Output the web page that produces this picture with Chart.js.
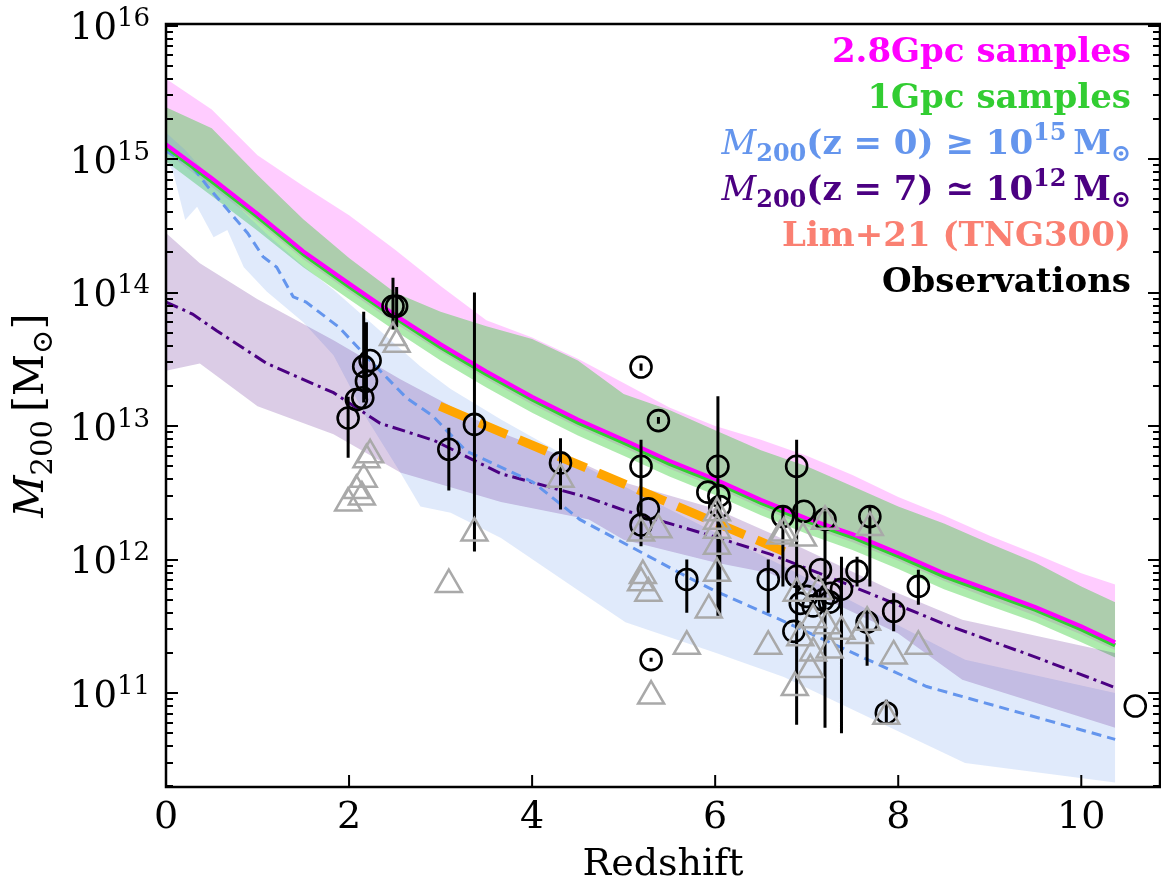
<!DOCTYPE html>
<html>
<head>
<meta charset="utf-8">
<script src="https://cdn.jsdelivr.net/npm/chart.js@4.4.1/dist/chart.umd.min.js"></script>
<style>
  html, body { margin: 0; padding: 0; background: #fff; }
  canvas { display: block; }
</style>
</head>
<body>
<canvas id="chart" width="1161" height="883"></canvas>
<script>
// ---- simulation curves (redshift vs M200) ----
const zGrid = [0, 0.5, 1, 1.5, 2, 2.5, 3, 3.5, 4, 4.5, 5, 5.5, 6, 6.5, 7, 7.5, 8, 8.5, 9, 9.5, 10, 10.37];
// 2.8Gpc samples
const med28 = [1.29e15, 7.2e14, 3.9e14, 2.04e14, 1.17e14, 6.8e13, 4.1e13, 2.57e13, 1.66e13, 1.12e13, 7.9e12, 5.5e12, 4.0e12, 2.8e12, 2.04e12, 1.55e12, 1.12e12, 7.9e11, 5.9e11, 4.4e11, 3.16e11, 2.4e11];
const hi28 = [4.0e15, 2.35e15, 1.07e15, 6.3e14, 3.8e14, 2.1e14, 1.12e14, 6.2e13, 4.6e13, 3.2e13, 2.1e13, 1.38e13, 1.0e13, 7.9e12, 6.0e12, 4.3e12, 2.95e12, 2.14e12, 1.51e12, 1.10e12, 7.9e11, 6.5e11];
const lo28 = [1.12e15, 6.2e14, 3.4e14, 1.78e14, 1.02e14, 5.9e13, 3.6e13, 2.25e13, 1.45e13, 9.8e12, 6.9e12, 4.8e12, 3.5e12, 2.45e12, 1.78e12, 1.35e12, 9.8e11, 6.9e11, 5.1e11, 3.8e11, 2.75e11, 2.1e11];
// 1Gpc samples
const med1 = [1.23e15, 6.8e14, 3.7e14, 1.94e14, 1.11e14, 6.5e13, 3.9e13, 2.44e13, 1.58e13, 1.06e13, 7.5e12, 5.2e12, 3.8e12, 2.66e12, 1.94e12, 1.47e12, 1.06e12, 7.5e11, 5.6e11, 4.2e11, 3.0e11, 2.28e11];
const hi1 = [2.45e15, 1.7e15, 7.6e14, 3.55e14, 1.82e14, 1.0e14, 7.2e13, 5.6e13, 4.5e13, 3.1e13, 1.74e13, 1.32e13, 9.3e12, 6.6e12, 5.0e12, 3.55e12, 2.5e12, 1.86e12, 1.32e12, 9.5e11, 6.3e11, 4.8e11];
const lo1 = [9.6e14, 5.3e14, 2.9e14, 1.55e14, 8.9e13, 5.2e13, 3.1e13, 1.95e13, 1.26e13, 8.5e12, 6.0e12, 4.2e12, 3.05e12, 2.15e12, 1.56e12, 1.18e12, 8.5e11, 6.0e11, 4.5e11, 3.4e11, 2.4e11, 1.85e11];

// M200(z=0) >= 1e15
const zBlueBand = [0, 0.08, 0.21, 0.34, 0.52, 0.67, 0.85, 1.1, 1.5, 1.83, 2.2, 2.56, 2.78, 3.11, 3.66, 4.55, 5.02, 6.01, 6.75, 8.73, 10.37];
const loBlue = [1.0e15, 7.9e14, 3.5e14, 4.4e14, 2.6e14, 2.95e14, 1.55e14, 1.02e14, 6.0e13, 3.4e13, 1.12e13, 4.5e12, 2.5e12, 2.24e12, 1.45e12, 5.6e11, 3.4e11, 2.0e11, 1.32e11, 3.0e10, 2.14e10];
const hiBlue = [1.58e15, 1.41e15, 1.17e15, 9.3e14, 6.9e14, 5.5e14, 4.0e14, 2.75e14, 1.58e14, 1.05e14, 6.3e13, 3.8e13, 2.8e13, 1.9e13, 1.12e13, 5.1e12, 3.5e12, 1.58e12, 8.9e11, 1.78e11, 1.0e11];
const zBlueLine = [0, 0.28, 0.45, 0.67, 0.89, 1.06, 1.21, 1.39, 1.53, 1.89, 2.26, 2.63, 2.91, 3.28, 4.01, 4.52, 5.62, 5.98, 6.71, 8.31, 10.37];
const medBlue = [1.15e15, 8.9e14, 6.3e14, 4.2e14, 2.8e14, 1.86e14, 1.55e14, 9.3e13, 8.5e13, 5.5e13, 2.95e13, 1.62e13, 1.2e13, 6.5e12, 3.8e12, 2.0e12, 7.9e11, 5.9e11, 3.55e11, 1.12e11, 4.5e10];

// M200(z=7) ~ 1e12
const zPurpleBand = [0, 0.37, 1.0, 1.83, 2.56, 3.66, 4.62, 5.0, 6.0, 6.6, 8.0, 8.7, 10.37];
const hiPurple = [2.8e14, 1.66e14, 8.9e13, 4.4e13, 2.24e13, 8.9e12, 5.0e12, 3.8e12, 2.4e12, 1.58e12, 5.6e11, 3.55e11, 2.0e11];
const loPurple = [2.6e13, 2.95e13, 1.41e13, 8.7e12, 4.5e12, 2.7e12, 2.0e12, 1.41e12, 9.5e11, 7.9e11, 2.8e11, 1.26e11, 5.5e10];
const zPurpleLine = [0, 0.29, 0.55, 1.1, 1.83, 2.34, 2.93, 3.66, 4.62, 5.0, 6.0, 6.6, 7.5, 8.5, 9.5, 10.37];
const medPurple = [8.5e13, 6.9e13, 5.2e13, 2.95e13, 1.78e13, 1.05e13, 7.8e12, 4.4e12, 2.9e12, 2.35e12, 1.48e12, 1.1e12, 6.3e11, 3.3e11, 1.86e11, 1.1e11];

// Lim+21 (TNG300)
const zLim = [2.99, 5.0, 6.82];
const mLim = [1.41e13, 3.7e12, 1.1e12];

// ---- observations: circles with error bars (null = no bar) ----
const obsZ  = [1.99, 2.08, 2.15, 2.16, 2.19, 2.23, 2.48, 2.52, 3.09, 3.37, 4.31, 5.19, 5.27, 5.19, 5.19, 5.38, 5.30, 6.03, 5.92, 6.04, 6.05, 5.69, 6.58, 6.74, 6.89, 6.97, 7.20, 7.69, 6.89, 7.15, 7.26, 7.38, 7.55, 7.00, 7.07, 6.86, 7.66, 7.95, 8.22, 7.87, 10.59, 6.93, 7.18, 7.25];
const obsM  = [1.15e13, 1.58e13, 1.63e13, 2.8e13, 2.17e13, 3.1e13, 7.9e13, 7.9e13, 6.7e12, 1.03e13, 5.3e12, 5.0e12, 2.4e12, 1.82e12, 2.77e13, 1.1e13, 1.78e11, 5.0e12, 3.2e12, 3.0e12, 2.5e12, 7.1e11, 7.1e11, 2.1e12, 5.0e12, 2.3e12, 2.0e12, 2.1e12, 7.5e11, 8.4e11, 5.6e11, 6.0e11, 8.2e11, 5.3e11, 4.5e11, 2.9e11, 3.4e11, 4.1e11, 6.3e11, 7.1e10, 8.0e10, 4.7e11, 5.0e11, 4.8e11];
const obsLo = [5.8e12, null, null, 1.5e13, 1.58e13, null, 5.3e13, 5.5e13, 3.3e12, 1.15e12, 2.37e12, 1.26e12, null, null, 2.6e13, 1.04e13, 1.72e11, 3.8e11, null, null, 3.8e11, 4.0e11, 4.0e11, 6.3e11, 6.0e10, null, 5.5e10, 6.3e11, 5.8e10, null, null, 5.0e10, 6.3e11, null, null, null, 1.6e11, 2.9e11, 4.6e11, 6.0e10, null, null, null, null];
const obsHi = [1.66e13, null, null, 7.2e13, 6.0e13, null, 1.29e14, 1.1e14, 9.7e12, 1.0e14, 8.1e12, 7.9e12, null, null, 2.95e13, 1.17e13, 1.84e11, 1.67e13, null, null, 3.0e12, 1.0e12, 1.0e12, 2.5e12, 7.9e12, null, 2.3e12, 2.5e12, 1.0e12, null, null, 1.05e12, 1.05e12, null, null, null, 4.3e11, 5.6e11, 8.4e11, 8.9e10, null, null, null, null];

// ---- observations: grey triangles ----
const triZ = [1.99, 2.08, 2.14, 2.16, 2.19, 2.23, 2.48, 2.52, 3.37, 3.09, 4.31, 5.19, 5.38, 5.19, 5.27, 5.21, 5.30, 5.69, 5.93, 6.02, 6.02, 6.02, 6.02, 6.02, 6.58, 6.71, 6.75, 6.96, 7.20, 7.69, 6.89, 7.13, 6.93, 7.07, 7.22, 7.38, 7.58, 7.66, 7.95, 8.22, 7.04, 6.87, 7.25, 7.07, 7.87];
const triM = [2.65e12, 3.3e12, 2.95e12, 4.0e12, 5.6e12, 6.1e12, 4.6e13, 4.1e13, 1.58e12, 6.5e11, 4.0e12, 1.58e12, 1.67e12, 6.7e11, 5.6e11, 7.6e11, 9.5e10, 2.24e11, 4.2e11, 2.24e12, 1.94e12, 1.66e12, 1.26e12, 7.9e11, 2.24e11, 1.5e12, 1.58e12, 1.45e12, 1.94e12, 1.74e12, 5.6e11, 5.8e11, 2.6e11, 3.55e11, 3.2e11, 2.9e11, 2.7e11, 3.4e11, 1.9e11, 2.24e11, 1.5e11, 1.1e11, 2.1e11, 2.0e11, 6.7e10];

// ---- axes ----
const xTicks = [0, 2, 4, 6, 8, 10];
const yTicks = [1e11, 1e12, 1e13, 1e14, 1e15, 1e16];
const yTickExp = ['11', '12', '13', '14', '15', '16'];

// ---- legend text (right aligned, coloured) ----
const legendLines = [
  [['2.8Gpc samples', 'n']],
  [['1Gpc samples', 'n']],
  [['M', 'i'], ['200', 'sub'], ['(z = 0) \u2265 10', 'n'], ['15', 'sup'], ['\u2009M', 'n'], ['\u2299', 'sub']],
  [['M', 'i'], ['200', 'sub'], ['(z = 7) \u2243 10', 'n'], ['12', 'sup'], ['\u2009M', 'n'], ['\u2299', 'sub']],
  [['Lim+21 (TNG300)', 'n']],
  [['Observations', 'n']]
];
const legendColors = ['#ff00ff', '#32cd32', '#6495ed', '#4b0082', '#fa8072', '#000000'];

function pts(xs, ys) {
  return xs.map((x, i) => ({ x: x, y: ys[i] }));
}

// error bars as one broken line
let errPts = [];
for (let i = 0; i < obsZ.length; i++) {
  if (obsLo[i] === null) continue;
  errPts.push({ x: obsZ[i], y: obsLo[i] });
  errPts.push({ x: obsZ[i], y: obsHi[i] });
  errPts.push({ x: obsZ[i], y: null });
}

const serif = '"DejaVu Serif", "Liberation Serif", serif';

function segFont(style, size, bold) {
  const b = bold ? 'bold ' : '';
  if (style === 'i') return 'italic ' + size + 'px ' + serif;
  if (style === 'sub' || style === 'sup') return b + Math.round(size * 0.7) + 'px ' + serif;
  return b + size + 'px ' + serif;
}

function richWidth(ctx, segs, size, bold) {
  let w = 0;
  segs.forEach(s => { ctx.font = segFont(s[1], size, bold); w += ctx.measureText(s[0]).width; });
  return w;
}

function drawRich(ctx, segs, x0, yBase, size, bold) {
  let x = x0;
  segs.forEach(s => {
    ctx.font = segFont(s[1], size, bold);
    let dy = 0;
    if (s[1] === 'sub') dy = size * 0.22;
    if (s[1] === 'sup') dy = -size * 0.42;
    ctx.fillText(s[0], x, yBase + dy);
    x += ctx.measureText(s[0]).width;
  });
}

const decoPlugin = {
  id: 'deco',
  afterDraw(chart) {
    const ctx = chart.ctx;
    const a = chart.chartArea;
    const xs = chart.scales.x;
    const ys = chart.scales.y;
    ctx.save();
    ctx.strokeStyle = '#000';
    ctx.lineWidth = 2;
    ctx.beginPath();
    xTicks.forEach(v => {
      const px = xs.getPixelForValue(v);
      ctx.moveTo(px, a.bottom);
      ctx.lineTo(px, a.bottom - 12);
    });
    for (let e = 10; e <= 16; e++) {
      for (let k = 1; k <= 9; k++) {
        const v = k * Math.pow(10, e);
        if (v < ys.min || v > ys.max) continue;
        const py = Math.round(ys.getPixelForValue(v));
        const len = k === 1 ? 12 : 7;
        ctx.moveTo(a.left, py); ctx.lineTo(a.left + len, py);
        ctx.moveTo(a.right, py); ctx.lineTo(a.right - len, py);
      }
    }
    ctx.stroke();
    ctx.lineWidth = 2.5;
    ctx.strokeRect(a.left, a.top, a.right - a.left, a.bottom - a.top);

    // y tick labels 10^n
    ctx.fillStyle = '#000';
    ctx.textBaseline = 'alphabetic';
    ctx.textAlign = 'left';
    yTicks.forEach((v, i) => {
      const py = ys.getPixelForValue(v);
      ctx.font = '26px ' + serif;
      const we = ctx.measureText(yTickExp[i]).width;
      ctx.font = '37px ' + serif;
      const wb = ctx.measureText('10').width;
      const right = 150;
      ctx.fillText('10', right - we - wb, py + 13.5);
      ctx.font = '26px ' + serif;
      ctx.fillText(yTickExp[i], right - we, py + 0.5);
    });

    // y axis title
    const ySegs = [['M', 'i'], ['200', 'sub'], ['\u2009[M', 'n'], ['\u2299', 'sub'], [']', 'n']];
    const tw = richWidth(ctx, ySegs, 41, false);
    ctx.save();
    ctx.translate(43, (a.top + a.bottom) / 2 + 10);
    ctx.rotate(-Math.PI / 2);
    drawRich(ctx, ySegs, -tw / 2, 0, 41, false);
    ctx.restore();

    // legend text
    legendLines.forEach((segs, i) => {
      ctx.fillStyle = legendColors[i];
      const w = richWidth(ctx, segs, 34, true);
      drawRich(ctx, segs, 1131 - w, 62 + i * 46, 34, true);
    });
    ctx.restore();
  }
};

const ctx = document.getElementById('chart').getContext('2d');
const myChart = new Chart(ctx, {
  type: 'line',
  data: {
    datasets: [
      { // 0 triangles
        data: pts(triZ, triM), showLine: false, order: 0,
        pointStyle: 'triangle', pointRadius: 15, pointBorderWidth: 2.5,
        pointBorderColor: '#a9a9a9', pointBackgroundColor: 'rgba(0,0,0,0)'
      },
      { // 1 circles
        data: pts(obsZ, obsM), showLine: false, order: 1,
        pointStyle: 'circle', pointRadius: 10.5, pointBorderWidth: 2.6,
        pointBorderColor: '#000', pointBackgroundColor: 'rgba(0,0,0,0)'
      },
      { // 2 error bars
        data: errPts, order: 2, borderColor: '#000', borderWidth: 3,
        pointRadius: 0, spanGaps: false, borderCapStyle: 'butt'
      },
      { // 3 Lim+21
        data: pts(zLim, mLim), order: 3, borderColor: '#ffa500', borderWidth: 9,
        borderDash: [30, 13], pointRadius: 0, borderCapStyle: 'butt'
      },
      { // 4 2.8Gpc median
        data: pts(zGrid, med28), order: 4, borderColor: '#ff00ff', borderWidth: 4, pointRadius: 0
      },
      { // 5 1Gpc median
        data: pts(zGrid, med1), order: 5, borderColor: '#32cd32', borderWidth: 4, pointRadius: 0
      },
      { // 6 blue dashed
        data: pts(zBlueLine, medBlue), order: 6, borderColor: '#6495ed', borderWidth: 3,
        borderDash: [10, 6], pointRadius: 0
      },
      { // 7 purple dash-dot
        data: pts(zPurpleLine, medPurple), order: 7, borderColor: '#4b0082', borderWidth: 3,
        borderDash: [13, 5, 3, 5], pointRadius: 0
      },
      { // 8 purple band top
        data: pts(zPurpleBand, hiPurple), order: 9, borderWidth: 0, pointRadius: 0
      },
      { // 9 purple band bottom
        data: pts(zPurpleBand, loPurple), order: 9, borderWidth: 0, pointRadius: 0,
        fill: '-1', backgroundColor: 'rgba(75,0,130,0.2)'
      },
      { // 10 blue band top
        data: pts(zBlueBand, hiBlue), order: 10, borderWidth: 0, pointRadius: 0
      },
      { // 11 blue band bottom
        data: pts(zBlueBand, loBlue), order: 10, borderWidth: 0, pointRadius: 0,
        fill: '-1', backgroundColor: 'rgba(100,149,237,0.2)'
      },
      { // 12 green band top
        data: pts(zGrid, hi1), order: 11, borderWidth: 0, pointRadius: 0
      },
      { // 13 green band bottom
        data: pts(zGrid, lo1), order: 11, borderWidth: 0, pointRadius: 0,
        fill: '-1', backgroundColor: 'rgba(50,205,50,0.4)'
      },
      { // 14 pink band top
        data: pts(zGrid, hi28), order: 12, borderWidth: 0, pointRadius: 0
      },
      { // 15 pink band bottom
        data: pts(zGrid, lo28), order: 12, borderWidth: 0, pointRadius: 0,
        fill: '-1', backgroundColor: 'rgba(255,0,255,0.2)'
      }
    ]
  },
  options: {
    responsive: false,
    devicePixelRatio: 1,
    animation: false,
    events: [],
    layout: { autoPadding: false, padding: { top: 24, right: 1, left: 0, bottom: 0 } },
    plugins: { legend: { display: false }, tooltip: { enabled: false } },
    elements: { line: { tension: 0 } },
    scales: {
      x: {
        type: 'linear', min: 0, max: 10.86,
        grid: { display: false, drawTicks: false },
        border: { display: false },
        ticks: {
          stepSize: 2, includeBounds: false, padding: 8, color: '#000',
          font: { family: serif, size: 38 }
        },
        title: {
          display: true, text: 'Redshift', color: '#000',
          font: { family: serif, size: 38 }, padding: { top: 0, bottom: -5 }
        },
        afterFit: function (scale) {
          scale.height = 96;
          scale.paddingLeft = 0;
          scale.paddingRight = 0;
        }
      },
      y: {
        type: 'logarithmic', min: 1.98e10, max: 1.028e16,
        grid: { display: false, drawTicks: false },
        border: { display: false },
        ticks: { display: false },
        afterFit: function (scale) { scale.width = 166; }
      }
    }
  },
  plugins: [decoPlugin]
});
</script>
</body>
</html>
